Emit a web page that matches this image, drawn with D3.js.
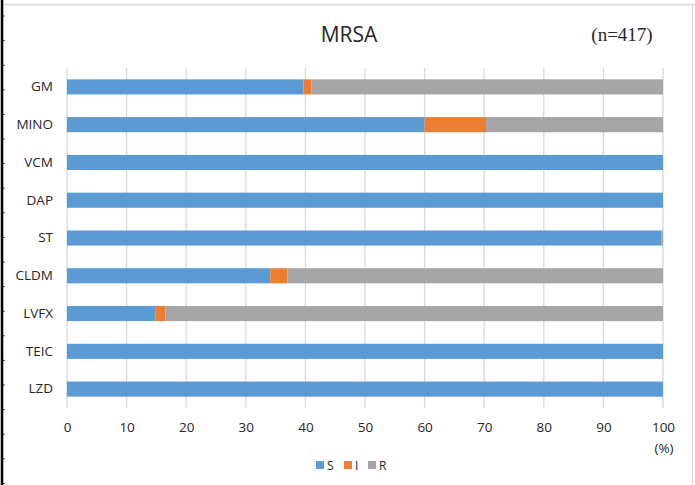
<!DOCTYPE html>
<html>
<head>
<meta charset="utf-8">
<script src="https://cdn.jsdelivr.net/npm/d3@7"></script>
<style>
  body { margin: 0; background: #fff; }
  svg text { font-family: "Open Sans", "DejaVu Sans", sans-serif; fill: #262626; }
</style>
</head>
<body>
<svg id="grafica"></svg>
<script>
// datos
const categorias = ['GM', 'MINO', 'VCM', 'DAP', 'ST', 'CLDM', 'LVFX', 'TEIC', 'LZD'];
const valoresS = [39.7, 60.0, 100, 100, 99.7, 34.1, 14.8, 100, 100];
const valoresI = [1.3, 10.3, 0, 0, 0, 2.9, 1.7, 0, 0];
const valoresR = [59.0, 29.7, 0, 0, 0.3, 63.0, 83.5, 0, 0];
const series = ['S', 'I', 'R'];
const colores = ['#5B9BD5', '#ED7D31', '#A5A5A5'];
const ticksX = [0, 10, 20, 30, 40, 50, 60, 70, 80, 90, 100];

const ancho = 695, alto = 485;
const margen = { top: 68, right: 32, bottom: 77, left: 67 };

const svg = d3.select('#grafica')
    .attr('width', ancho)
    .attr('height', alto);

// marco
svg.append('line').attr('x1', 3).attr('x2', ancho).attr('y1', 4.5).attr('y2', 4.5)
    .attr('stroke', '#d9d9d9').attr('stroke-width', 1.5);
svg.append('line').attr('x1', 692.5).attr('x2', 692.5).attr('y1', 4).attr('y2', alto)
    .attr('stroke', '#d9d9d9').attr('stroke-width', 1);
svg.append('line').attr('x1', 2).attr('x2', 2).attr('y1', 0).attr('y2', alto)
    .attr('stroke', '#000').attr('stroke-width', 2.5);
svg.append('g').selectAll('line')
    .data(d3.range(16, alto, 24.6))
    .join('line')
    .attr('x1', 2).attr('x2', 4.5)
    .attr('y1', d => d).attr('y2', d => d)
    .attr('stroke', '#000').attr('stroke-width', 1);

// tabla apilada
const tabla = categorias.map((c, i) => ({ cat: c, S: valoresS[i], I: valoresI[i], R: valoresR[i] }));
const pila = d3.stack().keys(series)(tabla);

const x = d3.scaleLinear()
    .domain([0, 100])
    .range([margen.left, ancho - margen.right]);

const y = d3.scaleBand()
    .domain(categorias)
    .range([margen.top, alto - margen.bottom])
    .paddingInner(0.6)
    .paddingOuter(0.3);

const color = d3.scaleOrdinal().domain(series).range(colores);

// lineas de cuadricula
svg.append('g')
    .selectAll('line')
    .data(ticksX)
    .join('line')
    .attr('x1', d => x(d)).attr('x2', d => x(d))
    .attr('y1', margen.top).attr('y2', alto - margen.bottom)
    .attr('stroke', '#d9d9d9')
    .attr('stroke-width', 1.3);

// barras
svg.append('g')
    .selectAll('g')
    .data(pila)
    .join('g')
    .attr('fill', d => color(d.key))
    .selectAll('rect')
    .data(d => d)
    .join('rect')
    .attr('x', d => x(d[0]))
    .attr('y', d => y(d.data.cat))
    .attr('width', d => x(d[1]) - x(d[0]))
    .attr('height', y.bandwidth());

// eje x
const ejeX = svg.append('g')
    .attr('transform', `translate(0,${alto - margen.bottom + 11})`)
    .call(d3.axisBottom(x).tickValues(ticksX).tickSize(0).tickFormat(d3.format('d')));
ejeX.select('.domain').remove();
ejeX.selectAll('text').style('font-size', '13.5px').style('font-family', '"Open Sans", sans-serif').attr('fill', '#262626');

svg.append('text')
    .attr('x', x(100) + 1)
    .attr('y', 453)
    .attr('text-anchor', 'middle')
    .style('font-size', '13.5px')
    .text('(%)');

// eje y
const ejeY = svg.append('g')
    .attr('transform', `translate(${margen.left - 14},0)`)
    .call(d3.axisLeft(y).tickSize(0).tickPadding(0));
ejeY.select('.domain').remove();
ejeY.selectAll('text').style('font-size', '13.5px').style('font-family', '"Open Sans", sans-serif').attr('fill', '#262626');

// titulo
svg.append('text')
    .attr('x', 349)
    .attr('y', 42)
    .attr('text-anchor', 'middle')
    .style('font-size', '21px')
    .text('MRSA');

svg.append('text')
    .attr('x', 622)
    .attr('y', 41)
    .attr('text-anchor', 'middle')
    .style('font-family', '"Liberation Serif", "DejaVu Serif", serif')
    .style('font-size', '19px')
    .text('(n=417)');

// leyenda
const leyenda = svg.append('g')
    .selectAll('g')
    .data(series)
    .join('g')
    .attr('transform', (d, i) => `translate(${[316, 344, 368][i]},461)`);

leyenda.append('rect')
    .attr('width', 8).attr('height', 8)
    .attr('fill', d => color(d));

leyenda.append('text')
    .attr('x', 11)
    .attr('y', 9)
    .style('font-size', '12px')
    .text(d => d);
</script>
</body>
</html>
